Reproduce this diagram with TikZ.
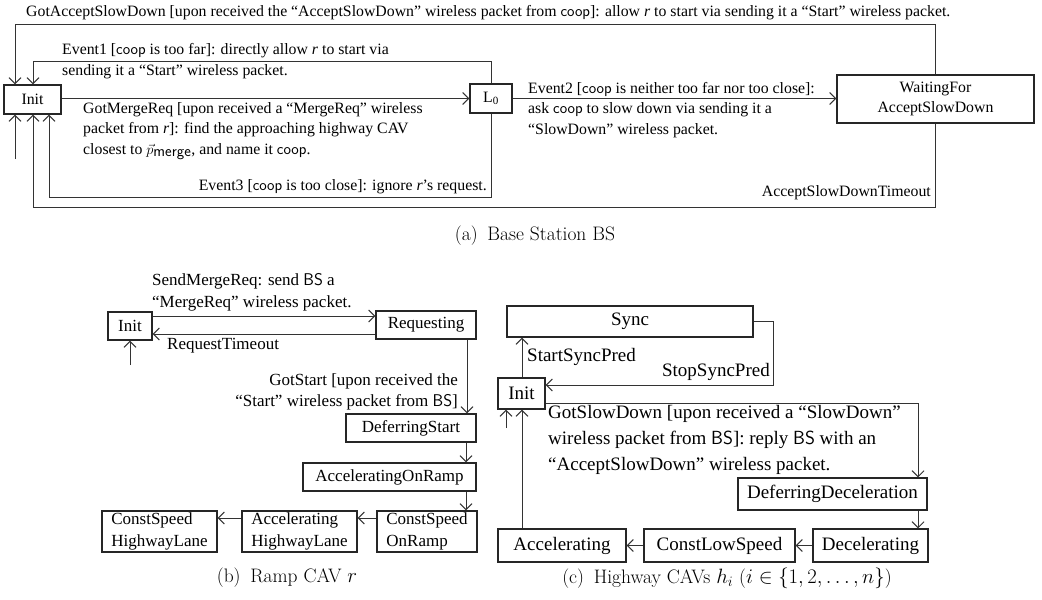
\documentclass[tikz,border=0pt]{standalone}
\usepackage{fontspec}
\usetikzlibrary{arrows.meta,calc}
\newfontfamily\tms{Liberation Serif}
\newcommand{\sfw}[1]{\textsf{#1}}
\tikzset{
  box/.style={draw=black!85, line width=1.2pt, inner sep=0pt, align=center},
  boxl/.style={box, align=left},
  arr/.style={draw=black!80, line width=1pt, -{Straight Barb[length=6pt,width=12pt,line width=1pt]}},
  lbl/.style={inner sep=0pt, align=left},
  fA/.style={font={\tms\fontsize{15.8}{20.5}\selectfont}},
  fB/.style={font={\tms\fontsize{17}{21.5}\selectfont}},
  fC/.style={font={\tms\fontsize{19}{26}\selectfont}},
  captxt/.style={inner sep=0pt, font={\fontsize{19.5}{22}\selectfont}},
}
\begin{document}
\begin{tikzpicture}[x=1pt,y=-1pt]
\useasboundingbox (0,0) rectangle (1042,600);
% ---------------- (a) Base Station ----------------
\node[box, fA, minimum width=57pt, minimum height=29pt] (initA) at (32.5,99.5) {Init};
\node[box, fA, minimum width=42pt, minimum height=29pt] (l0) at (491,98.5) {L\textsubscript{0}};
\node[box, fA, minimum width=197pt, minimum height=48pt] (wait) at (935.5,99) {WaitingFor\\AcceptSlowDown};

\node[lbl, fA, anchor=west] (tTop) at (26,13) {GotAcceptSlowDown [upon received the “AcceptSlowDown” wireless packet from \sfw{coop}]: allow \textit{r} to start via sending it a “Start” wireless packet.};
\node[lbl, fA, anchor=west] (tEv1) at (62,61) {Event1 [\sfw{coop} is too far]: directly allow \textit{r} to start via\\sending it a “Start” wireless packet.};
\node[lbl, fA, anchor=west] (tMerge) at (83,131) {GotMergeReq [upon received a “MergeReq” wireless\\packet from \textit{r}]: find the approaching highway CAV\\closest to $\vec{p}_{\textsf{merge}}$, and name it \sfw{coop}.};
\node[lbl, fA, anchor=west] (tEv2) at (528,110) {Event2 [\sfw{coop} is neither too far nor too close]:\\ask \sfw{coop} to slow down via sending it a\\“SlowDown” wireless packet.};
\node[lbl, fA, anchor=east] (tEv3) at (487,187) {Event3 [\sfw{coop} is too close]: ignore \textit{r}’s request.};
\node[lbl, fA, anchor=east] (tTo) at (931,193) {AcceptSlowDownTimeout};

\draw[arr] (wait.north) -- (wait.north |- 0,24) -| (initA.north -| 15,0);
\draw[arr] (l0.north) -- (l0.north |- 0,61) -| (initA.north -| 33,0);
\draw[arr] (initA.east |- l0.west) -- (l0.west);
\draw[arr] (l0.east) -- (wait.west |- l0.east);
\draw[arr] (l0.south) -- (l0.south |- 0,197) -| (initA.south -| 49,0);
\draw[arr] (wait.south) -- (wait.south |- 0,207) -| (initA.south -| 33,0);
\coordinate (startA) at (15,159);
\draw[arr] (startA) -- (initA.south -| startA);

\node[captxt] (capA) at (535,236) {(a)\enspace Base Station BS};

% ---------------- (b) Ramp CAV ----------------
\node[box, fB, minimum width=44pt, minimum height=28pt] (initB) at (130,326) {Init};
\node[box, fB, minimum width=100pt, minimum height=28pt] (req) at (426,325) {Requesting};
\node[box, fB, minimum width=130pt, minimum height=28pt] (ds) at (411,428) {DeferringStart};
\node[box, fB, minimum width=173pt, minimum height=28pt] (aor) at (389.5,477) {AcceleratingOnRamp};
\node[boxl, fB, minimum width=100pt, minimum height=41pt] (csor) at (427,531.5) {ConstSpeed\\OnRamp};
\node[boxl, fB, minimum width=115pt, minimum height=41pt] (ahl) at (299.5,531.5) {Accelerating\\HighwayLane};
\node[boxl, fB, minimum width=115pt, minimum height=41pt] (cshl) at (159.5,531.5) {ConstSpeed\\HighwayLane};

\node[lbl, fB, anchor=west] (tSend) at (152,292.5) {SendMergeReq: send \sfw{BS} a\\“MergeReq” wireless packet.};
\node[lbl, fB, anchor=west] (tReqTo) at (167,346) {RequestTimeout};
\node[lbl, fB, anchor=east, align=right] (tGotStart) at (458,392) {GotStart [upon received the\\“Start” wireless packet from \sfw{BS}]};

\draw[arr] (initB.east |- 0,316) -- (req.west |- 0,316);
\draw[arr] (req.west |- 0,334) -- (initB.east |- 0,334);
\draw[arr] (req.south -| 467,0) -- (ds.north -| 467,0);
\draw[arr] (ds.south -| 466,0) -- (aor.north -| 466,0);
\draw[arr] (aor.south -| 466,0) -- (csor.north -| 466,0);
\draw[arr] (csor.west |- 0,518) -- (ahl.east |- 0,518);
\draw[arr] (ahl.west |- 0,518) -- (cshl.east |- 0,518);
\coordinate (startB) at (130,365);
\draw[arr] (startB) -- (initB.south);

\node[captxt] (capB) at (287,578) {(b)\enspace Ramp CAV $r$};

% ---------------- (c) Highway CAVs ----------------
\node[box, fC, minimum width=246pt, minimum height=31pt] (sync) at (630,321.5) {Sync};
\node[box, fC, minimum width=47pt, minimum height=31pt] (initC) at (521.5,393.5) {Init};
\node[box, fC, minimum width=189pt, minimum height=32pt] (dd) at (832.5,494) {DeferringDeceleration};
\node[box, fC, minimum width=115pt, minimum height=33pt] (dec) at (870.5,545.5) {Decelerating};
\node[box, fC, minimum width=151pt, minimum height=33pt] (cls) at (719.5,545.5) {ConstLowSpeed};
\node[box, fC, minimum width=128pt, minimum height=33pt] (acc) at (562,545.5) {Accelerating};

\node[lbl, fC, anchor=west] (tStart) at (527,357) {StartSyncPred};
\node[lbl, fC, anchor=east] (tStop) at (770,372) {StopSyncPred};
\node[lbl, fC, anchor=west] (tSlow) at (548,440) {GotSlowDown [upon received a “SlowDown”\\wireless packet from \sfw{BS}]: reply \sfw{BS} with an\\“AcceptSlowDown” wireless packet.};

\draw[arr] (initC.north -| 522,0) -- (sync.south -| 522,0);
\draw[arr] (sync.east) -| (773,385) -- (initC.east |- 0,385);
\draw[arr] (initC.east |- 0,403) -| (dd.north -| 918,0);
\draw[arr] (dd.south -| 918,0) -- (dec.north -| 918,0);
\draw[arr] (dec.west) -- (cls.east);
\draw[arr] (cls.west) -- (acc.east);
\draw[arr] (acc.north -| 522,0) -- (initC.south -| 522,0);
\coordinate (startC) at (506,428);
\draw[arr] (startC) -- (initC.south -| startC);

\node[captxt] (capC) at (727,578) {(c)\enspace Highway CAVs $h_i$ ($i\in\{1,2,\ldots,n\}$)};
\end{tikzpicture}
\end{document}
